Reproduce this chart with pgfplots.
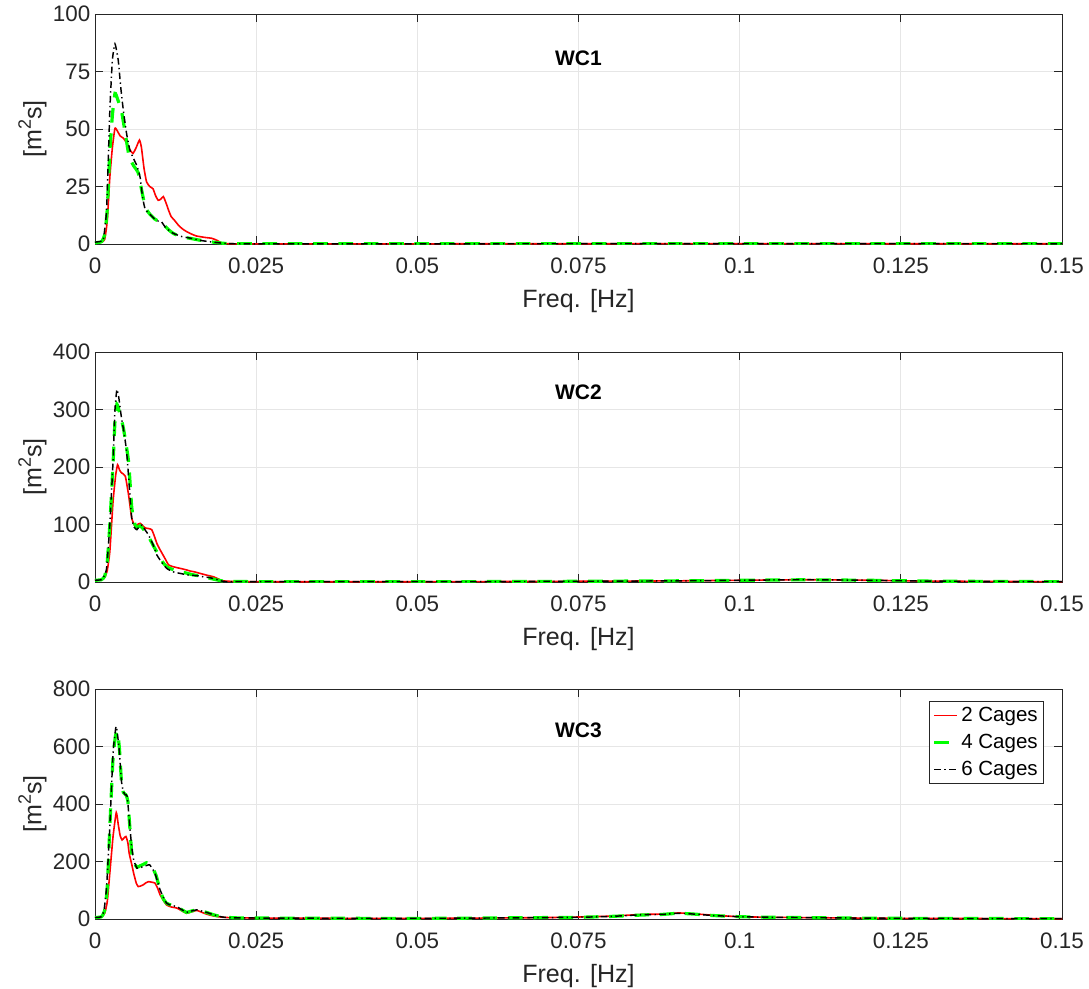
\documentclass[border=0pt]{standalone}
\usepackage{pgfplots}
\pgfplotsset{compat=1.18}
\usepackage{fontspec}
\setmainfont{Liberation Sans}
\definecolor{axcol}{HTML}{262626}
\definecolor{gridcol}{HTML}{E6E6E6}
\definecolor{myred}{rgb}{1,0,0}
\definecolor{mygreen}{rgb}{0,1,0}
\tikzset{
  redl/.style={draw=myred, color=myred, line width=1.2pt, solid},
  greenl/.style={draw=mygreen, color=mygreen, line width=2.4pt, dash pattern=on 11pt off 8pt},
  blackl/.style={draw=black, color=black, line width=1.1pt, dash pattern=on 5pt off 2.5pt on 1pt off 2.5pt},
}
\pgfplotsset{
  myax/.style={
    scale only axis, width=725.25pt, height=172.5pt,
    xmin=0, xmax=0.15, ymin=0,
    xtick={0,0.025,0.05,0.075,0.1,0.125,0.15},
    xticklabels={0,0.025,0.05,0.075,0.1,0.125,0.15},
    tick align=inside, major tick length=6pt,
    grid=major, major grid style={gridcol, line width=0.6pt},
    axis line style={axcol, line width=0.6pt},
    tick style={axcol, line width=0.6pt},
    ticklabel style={font=\fontsize{16.8}{18}\selectfont, text=axcol},
    xticklabel style={yshift=-7pt},
    /pgf/number format/assume math mode=true,
    xlabel={Freq. [Hz]},
    ylabel={[m\raisebox{0.42em}{\fontsize{13.5}{14}\selectfont 2}s]},
    xlabel style={at={(axis description cs:0.5,0)}, anchor=center, yshift=-43pt, font=\fontsize{18.8}{20}\selectfont, text=axcol},
    every axis y label/.style={at={(axis description cs:-0.0648,0.5)}, rotate=90, anchor=center, font=\fontsize{18.8}{20}\selectfont, text=axcol},
    clip=true,
  },
}
\begin{document}
\begin{tikzpicture}
\useasboundingbox (-71.25pt,10.5pt) rectangle (745.5pt,-731.25pt);
% ---------------- WC1
\begin{axis}[myax, at={(0pt,0pt)}, anchor=north west, ymax=100, ytick={0,25,50,75,100}]
\addplot[redl, smooth, tension=0.3] coordinates {
(0,0.5)(0.0010,0.8)(0.0015,2)(0.0019,10)(0.0023,29)(0.0027,42)(0.0031,50.3)(0.0035,49)(0.0039,47)
(0.0044,46)(0.0049,44)(0.0054,41)(0.0059,39.4)(0.0064,42)(0.0069,45.2)(0.0072,42)(0.0076,33)(0.0080,27)
(0.0085,25)(0.0090,24)(0.0094,21)(0.0098,19)(0.0102,19.5)(0.0106,20.6)(0.0110,18)(0.0114,14.8)(0.0118,12)
(0.0123,10.4)(0.0130,8)(0.0136,6.5)(0.0142,5.4)(0.0150,4.3)(0.0157,3.5)(0.0163,3.2)(0.0172,2.8)(0.0181,2.5)
(0.0190,1.5)(0.0196,0.5)(0.0210,0.1)(0.03,0.05)(0.06,0.1)(0.1,0.15)(0.15,0.1)};
\addplot[greenl, smooth, tension=0.3] coordinates {
(0,0.5)(0.0010,1)(0.0015,4)(0.0019,15)(0.0023,40)(0.0027,56)(0.0031,65.5)(0.0035,63)(0.0041,58)(0.0047,48)
(0.0053,38)(0.0060,34)(0.0067,31)(0.0072,24)(0.0078,16)(0.0085,13)(0.0092,11)(0.0098,10)(0.0103,10)(0.0108,8)
(0.0115,6)(0.0121,4.7)(0.0130,3.5)(0.0140,2.8)(0.0147,2.5)(0.0160,1.8)(0.0178,1)(0.0200,0.3)(0.0230,0.1)
(0.06,0.1)(0.1,0.15)(0.15,0.1)};
\addplot[blackl, smooth, tension=0.3] coordinates {
(0,0.8)(0.0010,1.2)(0.0013,2)(0.0018,15)(0.0023,58)(0.0027,80)(0.0031,87)(0.0036,80)(0.0040,68)(0.0044,58)
(0.0049,48)(0.0054,41)(0.0060,37)(0.0065,34)(0.0070,29)(0.0074,20)(0.0078,15)(0.0085,13)(0.0092,11)(0.0098,10)
(0.0103,9.7)(0.0110,7)(0.0121,4.7)(0.0135,3.2)(0.0147,2.6)(0.0165,1.5)(0.0178,1)(0.0200,0.3)(0.0230,0.1)
(0.06,0.1)(0.1,0.15)(0.15,0.1)};
\node[font=\fontsize{15.75}{17}\selectfont\bfseries] at (rel axis cs:0.5,0.809) {WC1};
\end{axis}
% ---------------- WC2
\begin{axis}[myax, at={(0pt,-253.5pt)}, anchor=north west, ymax=400, ytick={0,100,200,300,400}]
\addplot[redl, smooth, tension=0.3] coordinates {
(0,3)(0.0010,4)(0.0015,8)(0.0019,20)(0.0023,53)(0.0028,140)(0.0032,185)(0.0035,204)(0.0038,195)(0.0041,190)
(0.0047,184)(0.0052,152)(0.0057,111)(0.0062,97)(0.0066,100)(0.0070,102)(0.0074,98)(0.0078,94)(0.0083,93)
(0.0088,91)(0.0092,80)(0.0096,67)(0.0100,58)(0.0104,50)(0.0109,40)(0.0114,30)(0.0120,27)(0.0127,25)(0.0135,23)
(0.0142,21)(0.0148,19)(0.0153,18)(0.0163,15)(0.0173,12)(0.0184,9)(0.0192,5)(0.0199,2)(0.0220,0.8)(0.03,0.5)
(0.05,0.5)(0.07,1)(0.09,2)(0.10,3)(0.11,4)(0.12,3)(0.13,1.5)(0.15,0.5)};
\addplot[greenl, smooth, tension=0.3] coordinates {
(0,3)(0.0010,4)(0.0015,10)(0.0019,35)(0.0023,100)(0.0028,205)(0.0031,280)(0.0034,309)(0.0038,295)(0.0044,268)
(0.0052,210)(0.0057,130)(0.0062,100)(0.0066,95)(0.0070,98)(0.0075,92)(0.0080,85)(0.0085,75)(0.0092,60)(0.0100,45)
(0.0106,33)(0.0112,26)(0.0120,22)(0.0130,18)(0.0140,16)(0.0150,13)(0.0160,11)(0.0170,9)(0.0180,6)(0.0199,1.5)
(0.0220,0.8)(0.03,0.5)(0.05,0.5)(0.07,1)(0.09,2)(0.10,3)(0.11,3.8)(0.12,3)(0.13,1.5)(0.15,0.5)};
\addplot[blackl, smooth, tension=0.3] coordinates {
(0,3)(0.0010,4)(0.0014,10)(0.0018,24)(0.0023,99)(0.0028,210)(0.0031,300)(0.0034,335)(0.0037,320)(0.0041,286)
(0.0045,260)(0.0049,227)(0.0053,170)(0.0057,111)(0.0061,95)(0.0065,91)(0.0069,97)(0.0073,99)(0.0078,90)(0.0083,82)
(0.0090,65)(0.0096,47)(0.0103,35)(0.0111,24)(0.0120,18)(0.0132,15)(0.0145,12)(0.0158,11)(0.0168,9)(0.0178,7.6)
(0.0190,4)(0.0199,1)(0.0220,0.8)(0.03,0.5)(0.05,0.5)(0.07,1)(0.09,2)(0.10,3)(0.11,4)(0.12,3)(0.13,1.5)(0.15,0.5)};
\node[font=\fontsize{15.75}{17}\selectfont\bfseries] at (rel axis cs:0.5,0.826) {WC2};
\end{axis}
% ---------------- WC3
\begin{axis}[myax, at={(0pt,-506.25pt)}, anchor=north west, ymax=800, ytick={0,200,400,600,800},
  legend style={at={(rel axis cs:1,1)}, anchor=north east, xshift=-13.5pt, yshift=-9pt,
    draw=axcol, font=\fontsize{15.4}{17}\selectfont, legend cell align=left,
    inner sep=2.5pt, row sep=4pt}]
\addplot[redl, smooth, tension=0.3] coordinates {
(0,5)(0.0010,7)(0.0015,20)(0.0019,60)(0.0023,160)(0.0028,287)(0.0033,370)(0.0036,330)(0.0039,290)(0.0042,275)
(0.0045,282)(0.0048,287)(0.0051,265)(0.0053,229)(0.0057,190)(0.0060,159)(0.0064,125)(0.0067,113)(0.0071,115)
(0.0075,119)(0.0079,126)(0.0083,130)(0.0088,128)(0.0093,125)(0.0097,108)(0.0101,84)(0.0106,65)(0.0111,49)
(0.0118,42)(0.0127,38)(0.0135,28)(0.0142,20)(0.0150,25)(0.0158,30)(0.0165,24)(0.0173,17)(0.0185,10)(0.0199,6)
(0.0220,4)(0.03,3)(0.05,2)(0.07,5)(0.075,7)(0.08,10)(0.085,16)(0.088,17)(0.0905,21)(0.093,18)(0.096,13)
(0.1,8)(0.105,6)(0.11,5)(0.12,3)(0.13,2)(0.15,1)};
\addlegendentry{2 Cages}
\addplot[greenl, smooth, tension=0.3] coordinates {
(0,5)(0.0010,8)(0.0015,30)(0.0019,110)(0.0023,320)(0.0028,560)(0.0032,640)(0.0035,652)(0.0038,590)(0.0041,480)
(0.0044,440)(0.0048,432)(0.0051,410)(0.0054,320)(0.0057,230)(0.0060,200)(0.0065,180)(0.0070,185)(0.0075,190)
(0.0080,196)(0.0085,192)(0.0090,175)(0.0095,150)(0.0101,100)(0.0106,70)(0.0111,55)(0.0120,47)(0.0127,43)
(0.0135,32)(0.0142,23)(0.0150,28)(0.0158,32)(0.0165,28)(0.0173,23)(0.0185,14)(0.0199,7)(0.022,4)(0.03,3)
(0.05,2)(0.07,5)(0.075,6)(0.08,9)(0.085,14)(0.088,16)(0.0905,20)(0.093,17)(0.096,12)(0.1,8)(0.105,6)
(0.11,5)(0.12,3)(0.13,2)(0.15,1)};
\addlegendentry{4 Cages}
\addplot[blackl, smooth, tension=0.3] coordinates {
(0,5)(0.0010,8)(0.0014,30)(0.0018,113)(0.0023,322)(0.0028,577)(0.00326,670)(0.0035,640)(0.0038,577)(0.0041,480)
(0.0044,443)(0.0047,432)(0.0050,426)(0.0054,322)(0.0057,250)(0.0060,206)(0.0065,177)(0.0070,178)(0.0075,183)
(0.0080,186)(0.0085,188)(0.0093,159)(0.0101,101)(0.0111,55)(0.0120,47)(0.0127,43)(0.0135,32)(0.0142,23)
(0.0150,28)(0.0158,32)(0.0165,28)(0.0173,23)(0.0185,14)(0.0199,6.4)(0.022,4)(0.03,3)(0.05,2)(0.07,5)
(0.075,6)(0.08,9)(0.085,15)(0.088,16)(0.0905,20)(0.093,17)(0.096,12)(0.1,8)(0.105,6)(0.11,5)(0.12,3)(0.13,2)(0.15,1)};
\addlegendentry{6 Cages}
\node[font=\fontsize{15.75}{17}\selectfont\bfseries] at (rel axis cs:0.5,0.82) {WC3};
\end{axis}
\end{tikzpicture}
\end{document}
